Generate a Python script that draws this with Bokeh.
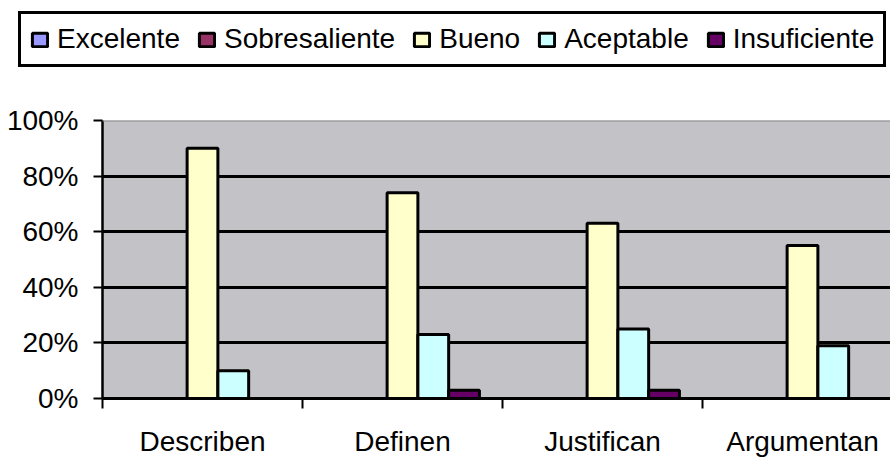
from bokeh.plotting import figure
from bokeh.models import (ColumnDataSource, Range1d, FixedTicker, Legend, LegendItem,
                          Span, PrintfTickFormatter)
from bokeh.transform import dodge
from bokeh.embed import file_html
from bokeh.resources import INLINE

# ---- data ----
categories = ["Describen", "Definen", "Justifican", "Argumentan"]
series = ["Excelente", "Sobresaliente", "Bueno", "Aceptable", "Insuficiente"]
excelente = [0, 0, 0, 0]
sobresaliente = [0, 0, 0, 0]
bueno = [90, 74, 63, 55]
aceptable = [10, 23, 25, 19]
insuficiente = [0, 3, 3, 0]
colors = ["#9999FF", "#993366", "#FFFFCC", "#CCFFFF", "#660066"]
y_ticks = [0, 20, 40, 60, 80, 100]

FONT = "Liberation Sans"
LEG_H = 77

centers = [i + 0.5 for i in range(len(categories))]
bounds = [i for i in range(len(categories))]
src = ColumnDataSource(dict(x=centers, Excelente=excelente, Sobresaliente=sobresaliente,
                            Bueno=bueno, Aceptable=aceptable, Insuficiente=insuficiente))

# ---- main chart ----
p = figure(width=890, height=459 - LEG_H, x_range=Range1d(0, 3.94), y_range=Range1d(0, 100),
           output_backend="svg", toolbar_location=None,
           min_border_left=102, min_border_right=0, min_border_top=120 - LEG_H,
           min_border_bottom=59)

p.background_fill_color = "#C3C2C6"
p.border_fill_color = "white"
p.outline_line_color = None

w = 1 / 6.5
for j, s in enumerate(series):
    p.vbar(x=dodge("x", (j - 2) * w, range=p.x_range), top=s, width=w, source=src,
           fill_color=colors[j], line_color="black", line_width=3)

# grid
p.xgrid.visible = False
p.ygrid.ticker = FixedTicker(ticks=[t for t in y_ticks if 0 < t < 100])
p.ygrid.grid_line_color = "black"
p.ygrid.grid_line_width = 3

p.add_layout(Span(location=100, dimension="width", line_color="#8C8C8C", line_width=2))

# y axis
p.yaxis.ticker = FixedTicker(ticks=y_ticks)
p.yaxis.formatter = PrintfTickFormatter(format="%d%%")
p.yaxis.major_label_text_font = FONT
p.yaxis.major_label_text_font_size = "28px"
p.yaxis.major_label_text_color = "black"
p.yaxis.major_tick_out = 9
p.yaxis.major_tick_in = 0
p.yaxis.major_tick_line_width = 2
p.yaxis.major_tick_line_color = "black"
p.yaxis.minor_tick_line_color = None
p.yaxis.axis_line_width = 2.5
p.yaxis.axis_line_color = "black"
p.yaxis.major_label_standoff = 15

# x axis
p.xaxis.ticker = FixedTicker(ticks=centers, minor_ticks=bounds)
p.xaxis.major_label_overrides = {c: name for c, name in zip(centers, categories)}
p.xaxis.major_label_text_font = FONT
p.xaxis.major_label_text_font_size = "28px"
p.xaxis.major_label_text_color = "black"
p.xaxis.major_tick_line_color = None
p.xaxis.major_tick_out = 10
p.xaxis.major_tick_in = 0
p.xaxis.minor_tick_line_color = "black"
p.xaxis.minor_tick_line_width = 2
p.xaxis.minor_tick_out = 10
p.xaxis.minor_tick_in = 0
p.xaxis.axis_line_width = 3
p.xaxis.axis_line_color = "black"
p.xaxis.major_label_standoff = 17

# ---- legend strip (separate figure above the chart) ----
lf = figure(width=890, height=LEG_H, x_range=Range1d(0, 1), y_range=Range1d(0, 1),
            output_backend="svg", toolbar_location=None,
            x_axis_type=None, y_axis_type=None,
            min_border_left=0, min_border_right=0, min_border_top=0, min_border_bottom=0)
lf.outline_line_color = None
lf.background_fill_color = "white"
lf.border_fill_color = "white"
lf.xgrid.visible = False
lf.ygrid.visible = False

items = []
for j, s in enumerate(series):
    r = lf.vbar(x=dodge("x", (j - 2) * w, range=lf.x_range), top=s, width=w, source=src,
                fill_color=colors[j], line_color="black", line_width=3)
    r.visible = False
    items.append(LegendItem(label=s, renderers=[r]))

legend = Legend(items=items, orientation="horizontal", location=(18, 10),
                border_line_color="black", border_line_width=3, border_line_alpha=1,
                background_fill_color="white", background_fill_alpha=1,
                label_text_font=FONT, label_text_font_size="28px", label_text_color="black",
                glyph_width=19, glyph_height=17, label_standoff=8, spacing=17,
                padding=9, margin=0)
lf.add_layout(legend)

open("out.html", "w").write(file_html([lf, p], INLINE))
